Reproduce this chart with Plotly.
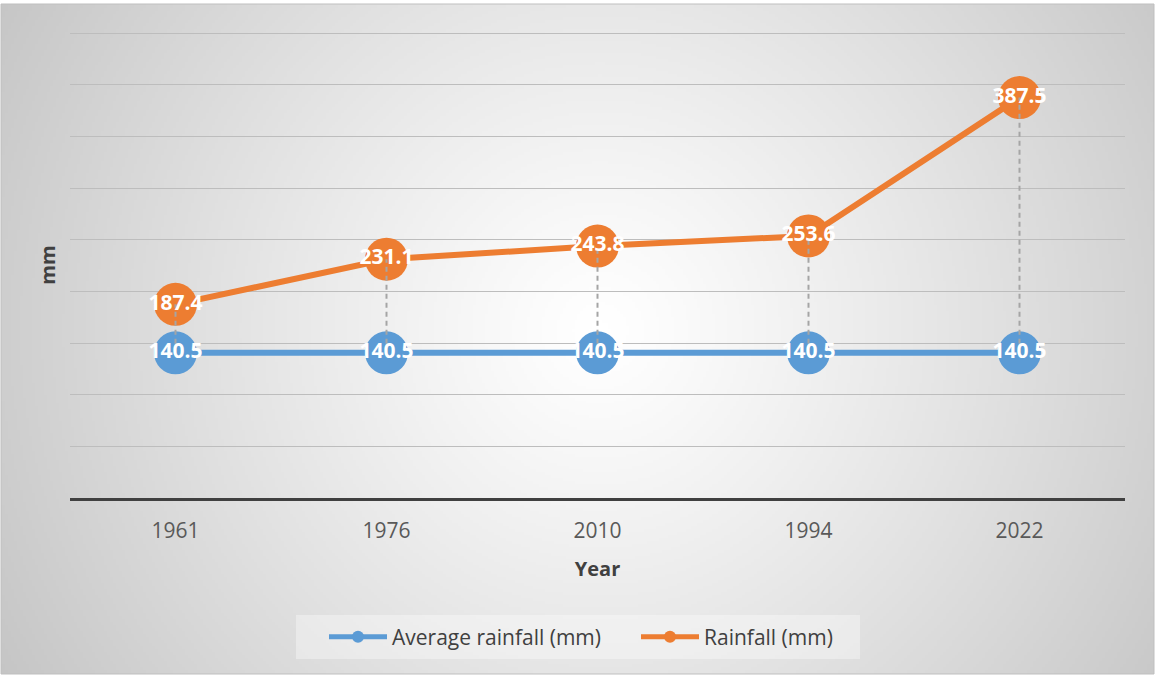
import base64
import math
import struct
import zlib

import plotly.graph_objects as go

# ---- data ----
years = ["1961", "1976", "2010", "1994", "2022"]
average_rainfall = [140.5, 140.5, 140.5, 140.5, 140.5]
rainfall = [187.4, 231.1, 243.8, 253.6, 387.5]

BLUE = "#5B9BD5"
ORANGE = "#ED7D31"
FONT = "Open Sans"

W, H = 1155, 677
L, R, T, B = 70, 30, 32, 179
PW, PH = W - L - R, H - T - B
YMAX = 451


def px_to_paper(x, y):
    return (x - L) / PW, (H - B - y) / PH


def radial_png(w, h, box):
    """Grayscale radial gradient (white centre, grey rim) as a PNG data URI."""
    x0, y0, x1, y1 = box
    cx, cy = 600.0, 330.0
    rmax = math.hypot(max(cx - x0, x1 - cx), max(cy - y0, y1 - cy))
    raw = bytearray()
    for j in range(h):
        raw.append(0)
        py = y0 + (j + 0.5) * (y1 - y0) / h
        for i in range(w):
            px = x0 + (i + 0.5) * (x1 - x0) / w
            r = min(1.0, math.hypot(px - cx, py - cy) / rmax)
            v = int(round(255 - 58 * r ** 1.15))
            raw.append(v)

    def chunk(tag, data):
        c = struct.pack(">I", len(data)) + tag + data
        return c + struct.pack(">I", zlib.crc32(tag + data) & 0xFFFFFFFF)

    png = b"\x89PNG\r\n\x1a\n"
    png += chunk(b"IHDR", struct.pack(">IIBBBBB", w, h, 8, 0, 0, 0, 0))
    png += chunk(b"IDAT", zlib.compress(bytes(raw), 9))
    png += chunk(b"IEND", b"")
    return "data:image/png;base64," + base64.b64encode(png).decode()


fig = go.Figure()

# series lines with markers
fig.add_trace(go.Scatter(
    x=years, y=average_rainfall, name="Average rainfall (mm)",
    mode="lines+markers",
    line=dict(color=BLUE, width=6),
    marker=dict(color=BLUE, size=43),
))
fig.add_trace(go.Scatter(
    x=years, y=rainfall, name="Rainfall (mm)",
    mode="lines+markers",
    line=dict(color=ORANGE, width=6),
    marker=dict(color=ORANGE, size=43),
))

# dashed high-low lines between the two series
hl_x, hl_y = [], []
for yr, lo, hi in zip(years, average_rainfall, rainfall):
    hl_x += [yr, yr, None]
    hl_y += [lo, hi, None]
fig.add_trace(go.Scatter(
    x=hl_x, y=hl_y, mode="lines", showlegend=False, hoverinfo="skip",
    line=dict(color="#A5A5A5", width=2, dash="5px,4px"),
))

# data labels
for vals in (average_rainfall, rainfall):
    fig.add_trace(go.Scatter(
        x=years, y=vals, mode="text", showlegend=False, hoverinfo="skip",
        text=[f"{v:.1f}" for v in vals], textposition="middle center",
        textfont=dict(family=FONT, size=21, color="white", weight="bold"),
    ))

# background, frame and legend box
bx0, by0, bx1, by1 = 1, 4, 1154, 674
ix, iy = px_to_paper(bx0, by0)
ix1, iy1 = px_to_paper(bx1, by1)
fig.add_layout_image(dict(
    source=radial_png(385, 224, (bx0, by0, bx1, by1)),
    xref="paper", yref="paper", x=ix, y=iy,
    sizex=ix1 - ix, sizey=iy - iy1,
    xanchor="left", yanchor="top", sizing="stretch", layer="below",
))
fig.add_shape(type="rect", xref="paper", yref="paper",
              x0=ix, y0=iy1, x1=ix1, y1=iy,
              line=dict(color="#BFBFBF", width=1), layer="below")
lx0, ly0 = px_to_paper(296, 615)
lx1, ly1 = px_to_paper(860, 659)
fig.add_shape(type="rect", xref="paper", yref="paper",
              x0=lx0, y0=ly1, x1=lx1, y1=ly0,
              fillcolor="rgba(255,255,255,0.35)", line=dict(width=0), layer="below")

leg_x, leg_y = px_to_paper(324, 637)
fig.update_layout(
    width=W, height=H,
    margin=dict(l=L, r=R, t=T, b=B, pad=0),
    paper_bgcolor="white",
    plot_bgcolor="rgba(0,0,0,0)",
    font=dict(family=FONT, color="#595959"),
    showlegend=True,
    legend=dict(
        orientation="h", x=leg_x, y=leg_y, xanchor="left", yanchor="middle",
        bgcolor="rgba(0,0,0,0)", font=dict(size=21, color="#404040"),
        itemwidth=58, itemsizing="constant", traceorder="normal",
        entrywidth=239,
    ),
    xaxis=dict(
        type="category", range=[-0.5, 4.5],
        showgrid=False, showline=True, linecolor="#404040", linewidth=3,
        ticks="outside", ticklen=12, tickcolor="rgba(0,0,0,0)",
        tickfont=dict(size=21, color="#595959"),
        title=dict(text="<b>Year</b>", font=dict(size=20, color="#404040"), standoff=19),
    ),
    yaxis=dict(
        range=[0, YMAX], dtick=50, showticklabels=False, zeroline=False,
        showgrid=True, gridcolor="#BDBDBD", gridwidth=1,
        title=dict(text="<b>mm</b>", font=dict(size=20, color="#404040"), standoff=8),
    ),
)

fig.write_html("out.html")
